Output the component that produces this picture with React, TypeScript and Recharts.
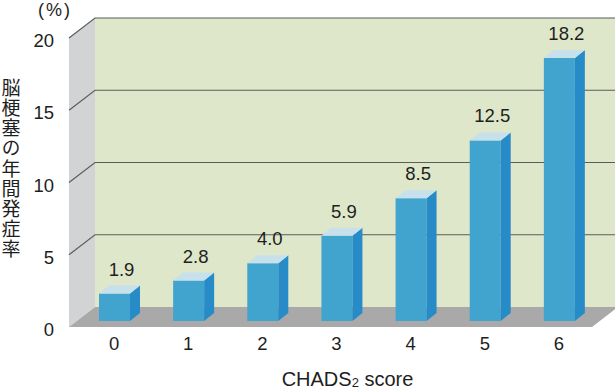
import { BarChart, Bar, XAxis, YAxis, ReferenceArea, ReferenceLine, LabelList } from 'recharts';

const scores = ['0', '1', '2', '3', '4', '5', '6'];
const strokeRates = [1.9, 2.8, 4.0, 5.9, 8.5, 12.5, 18.2];
const yTicks = [0, 5, 10, 15, 20];
const gridValues = [5, 10, 15, 20];
const yTitle = '脳梗塞の年間発症率';

const data = scores.map((score, i) => ({ score, rate: strokeRates[i] }));

// offsets of the pseudo-3D planes, relative to the plane the bars stand on
const FRONT = { dx: -8, dy: 6 };
const BACK = { dx: 18, dy: -14 };
const BAR_DEPTH = { dx: 10, dy: 8 };

const font = "'Liberation Sans', Arial, sans-serif";
const textColor = '#1e1e1e';

function Walls(props: any) {
  const { x, y, width, height } = props;
  const bottom = y + height;
  const left = `${x + FRONT.dx},${y + FRONT.dy} ${x + BACK.dx},${y + BACK.dy} ${x + BACK.dx},${bottom + BACK.dy} ${x + FRONT.dx},${bottom + FRONT.dy}`;
  const floor = `${x + FRONT.dx},${bottom + FRONT.dy} ${x + BACK.dx},${bottom + BACK.dy} ${x + width + 22},${bottom + BACK.dy} ${x + width - 4},${bottom + FRONT.dy}`;
  return (
    <g>
      <rect x={x + BACK.dx} y={y + BACK.dy} width={width + 6} height={height} fill="#dfe7ca" />
      <polygon points={left} fill="#d2d3d5" />
      <polygon points={floor} fill="#a9a9a9" />
    </g>
  );
}

function WallGrid(props: any) {
  const { x1, x2, y1 } = props;
  const left = Math.min(x1, x2);
  const right = Math.max(x1, x2);
  return (
    <path
      d={`M${left + FRONT.dx},${y1 + FRONT.dy} L${left + BACK.dx},${y1 + BACK.dy} L${right + BACK.dx + 6},${y1 + BACK.dy}`}
      stroke="#5c5c5c"
      strokeWidth={1.2}
      fill="none"
    />
  );
}

function Box(props: any) {
  const { x, y, width, height } = props;
  const { dx, dy } = BAR_DEPTH;
  const r = x + width;
  const side = `${r},${y} ${r + dx},${y - dy} ${r + dx},${y + height - dy} ${r},${y + height}`;
  const top = `${x},${y} ${x + dx},${y - dy} ${r + dx},${y - dy} ${r},${y}`;
  return (
    <g>
      <rect x={x} y={y} width={width} height={height} fill="#41a4cf" />
      <polygon points={side} fill="#278bc8" />
      <polygon points={top} fill="#c6e0ec" />
    </g>
  );
}

function ValueLabel(props: any) {
  const { x, y, width, value } = props;
  return (
    <text x={x + width / 2 + 7} y={y - 18} textAnchor="middle" fontSize={18.5} fontFamily={font} fill={textColor}>
      {Number(value).toFixed(1)}
    </text>
  );
}

function YTick(props: any) {
  const { x, y, payload } = props;
  return (
    <text x={x - 23} y={y + 15} textAnchor="end" fontSize={18.5} fontFamily={font} fill={textColor}>
      {payload.value}
    </text>
  );
}

function XTick(props: any) {
  const { x, y, payload } = props;
  return (
    <text x={x} y={y + 29} textAnchor="middle" fontSize={18.5} fontFamily={font} fill={textColor}>
      {payload.value}
    </text>
  );
}

function XTitle(props: any) {
  const { viewBox } = props;
  const cx = viewBox.x + viewBox.width / 2 + 11;
  return (
    <text x={cx} y={386} textAnchor="middle" fontSize={20} fontFamily={font} fill={textColor}>
      CHADS<tspan fontSize={13} dy={1}>2</tspan>
      <tspan dy={-1}> score</tspan>
    </text>
  );
}

export default function App() {
  return (
    <div style={{ position: 'absolute', left: 0, top: 0, width: 615, height: 392, background: '#fff' }}>
      <BarChart width={615} height={392} data={data} margin={{ top: 32, right: 19, bottom: 0, left: 0 }}>
        <ReferenceArea y1={0} y2={20} shape={Walls} zIndex={-200} fill="none" stroke="none" />
        {gridValues.map((v) => (
          <ReferenceLine key={v} y={v} shape={WallGrid} zIndex={-150} />
        ))}
        <XAxis
          dataKey="score"
          axisLine={false}
          tickLine={false}
          tickSize={0}
          tickMargin={0}
          interval={0}
          height={71}
          tick={XTick}
          label={<XTitle />}
        />
        <YAxis
          type="number"
          domain={[0, 20]}
          ticks={yTicks}
          axisLine={false}
          tickLine={false}
          tickSize={0}
          tickMargin={0}
          width={77}
          tick={YTick}
        />
        <Bar dataKey="rate" barSize={31} shape={Box} isAnimationActive={false}>
          <LabelList dataKey="rate" content={ValueLabel} />
        </Bar>
        <text x={55} y={16} textAnchor="middle" fontSize={18} fontFamily={font} fill={textColor} letterSpacing={2}>
          (%)
        </text>
        <text
          x={11}
          y={78}
          style={{ writingMode: 'vertical-rl' }}
          fontSize={19}
          letterSpacing={1.2}
          fontFamily="'Noto Sans CJK JP', sans-serif"
          fill={textColor}
        >
          {yTitle}
        </text>
      </BarChart>
    </div>
  );
}
